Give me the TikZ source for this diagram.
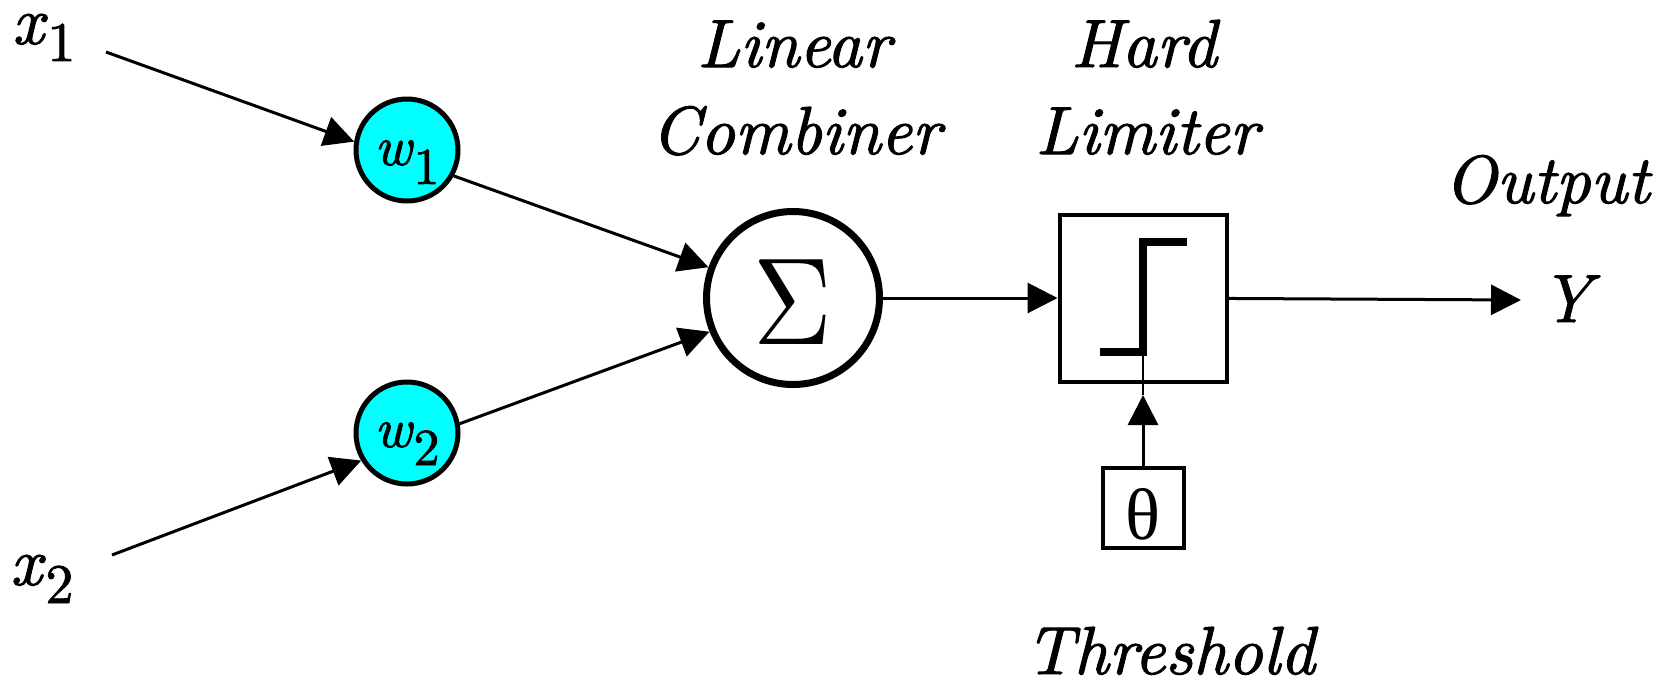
\documentclass[tikz,border=0pt]{standalone}
\usepackage{fontspec}
\newfontfamily\thfont{Liberation Serif}
\newfontfamily\lblit{lmroman10-italic.otf}[FakeBold=1.5]
\newfontfamily\lblup{lmroman10-regular.otf}[FakeBold=1.5]
\usetikzlibrary{arrows.meta}
\definecolor{aqua}{RGB}{0,255,255}
\begin{document}
\begin{tikzpicture}[x=1pt,y=-1pt,
  lbl/.style={font=\fontsize{68}{74}\lblit, inner sep=0pt, anchor=base},
  conn/.style={line width=3pt, -{Triangle[length=30pt,width=30pt]}},
  wnode/.style={circle, draw, line width=5pt, fill=aqua, minimum size=102pt, inner sep=0pt},
  sumnode/.style={circle, draw, line width=7pt, minimum size=173pt, inner sep=0pt},
  limbox/.style={rectangle, draw, line width=4pt, minimum width=167pt, minimum height=167pt, inner sep=0pt},
  thbox/.style={rectangle, draw, line width=4pt, minimum width=81pt, minimum height=80pt, inner sep=0pt},
  stepline/.style={line width=8pt, line join=miter},
  thinline/.style={line width=2pt}
]
\useasboundingbox (0,0) rectangle (1669,681);

% inputs
\node[lbl, anchor=base west] (x1) at (12,44) {x\/\raisebox{-17pt}{\fontsize{56}{60}\lblup 1}};
\node[lbl, anchor=base west] (x2) at (10,585) {x\/\raisebox{-18pt}{\fontsize{56}{60}\lblup 2}};
\coordinate (x1out) at (106,52);
\coordinate (x2out) at (112,555);

% weights
\node[wnode] (w1) at (407,150) {\raisebox{-15pt}[0pt][0pt]{\fontsize{56}{60}\lblit w\/\raisebox{-19pt}{\fontsize{52}{56}\lblup 1}}};
\node[wnode] (w2) at (407,433) {\raisebox{-14pt}[0pt][0pt]{\fontsize{56}{60}\lblit w\/\raisebox{-18pt}{\fontsize{52}{56}\lblup 2}}};

% summation
\node[sumnode] (sum) at (793,298) {\raisebox{-46pt}[0pt][0pt]{\scalebox{10.9}[12.4]{$\Sigma$}}};

% hard limiter
\node[limbox] (lim) at (1143,298) {};
\node[thbox] (th) at (1143,508) {\raisebox{-31pt}[0pt][0pt]{\fontsize{73}{80}\thfont θ}};
\coordinate (sb) at (1143,352);
\coordinate (thtip) at (1143,395);
\coordinate (yend) at (1521,300);

% labels
\node[lbl] (lin) at (794,67) {Linear};
\node[lbl] (comb) at (796,154) {Combiner};
\node[lbl] (hard) at (1144,67) {Hard};
\node[lbl] (limt) at (1147,154) {Limiter};
\node[lbl] (outp) at (1547,203) {Output};
\node[lbl] (yy) at (1566,322) {Y};
\node[lbl] (thr) at (1170,674) {Threshold};

% connectors
\draw[conn] (x1out) -- (w1.171);
\draw[conn] (x2out) -- (w2.211);
\draw[conn] (w1.331) -- (sum.160);
\draw[conn] (w2.10) -- (sum.202);
\draw[conn] (sum) -- (lim);
\draw[conn] (lim) -- (yend);
\draw[conn] (th) -- (thtip);
\draw[thinline] (thtip) -- (sb);

% step symbol
\draw[stepline] (1100,352) -- (sb) -- (1143,242) -- (1187,242);
\end{tikzpicture}
\end{document}
